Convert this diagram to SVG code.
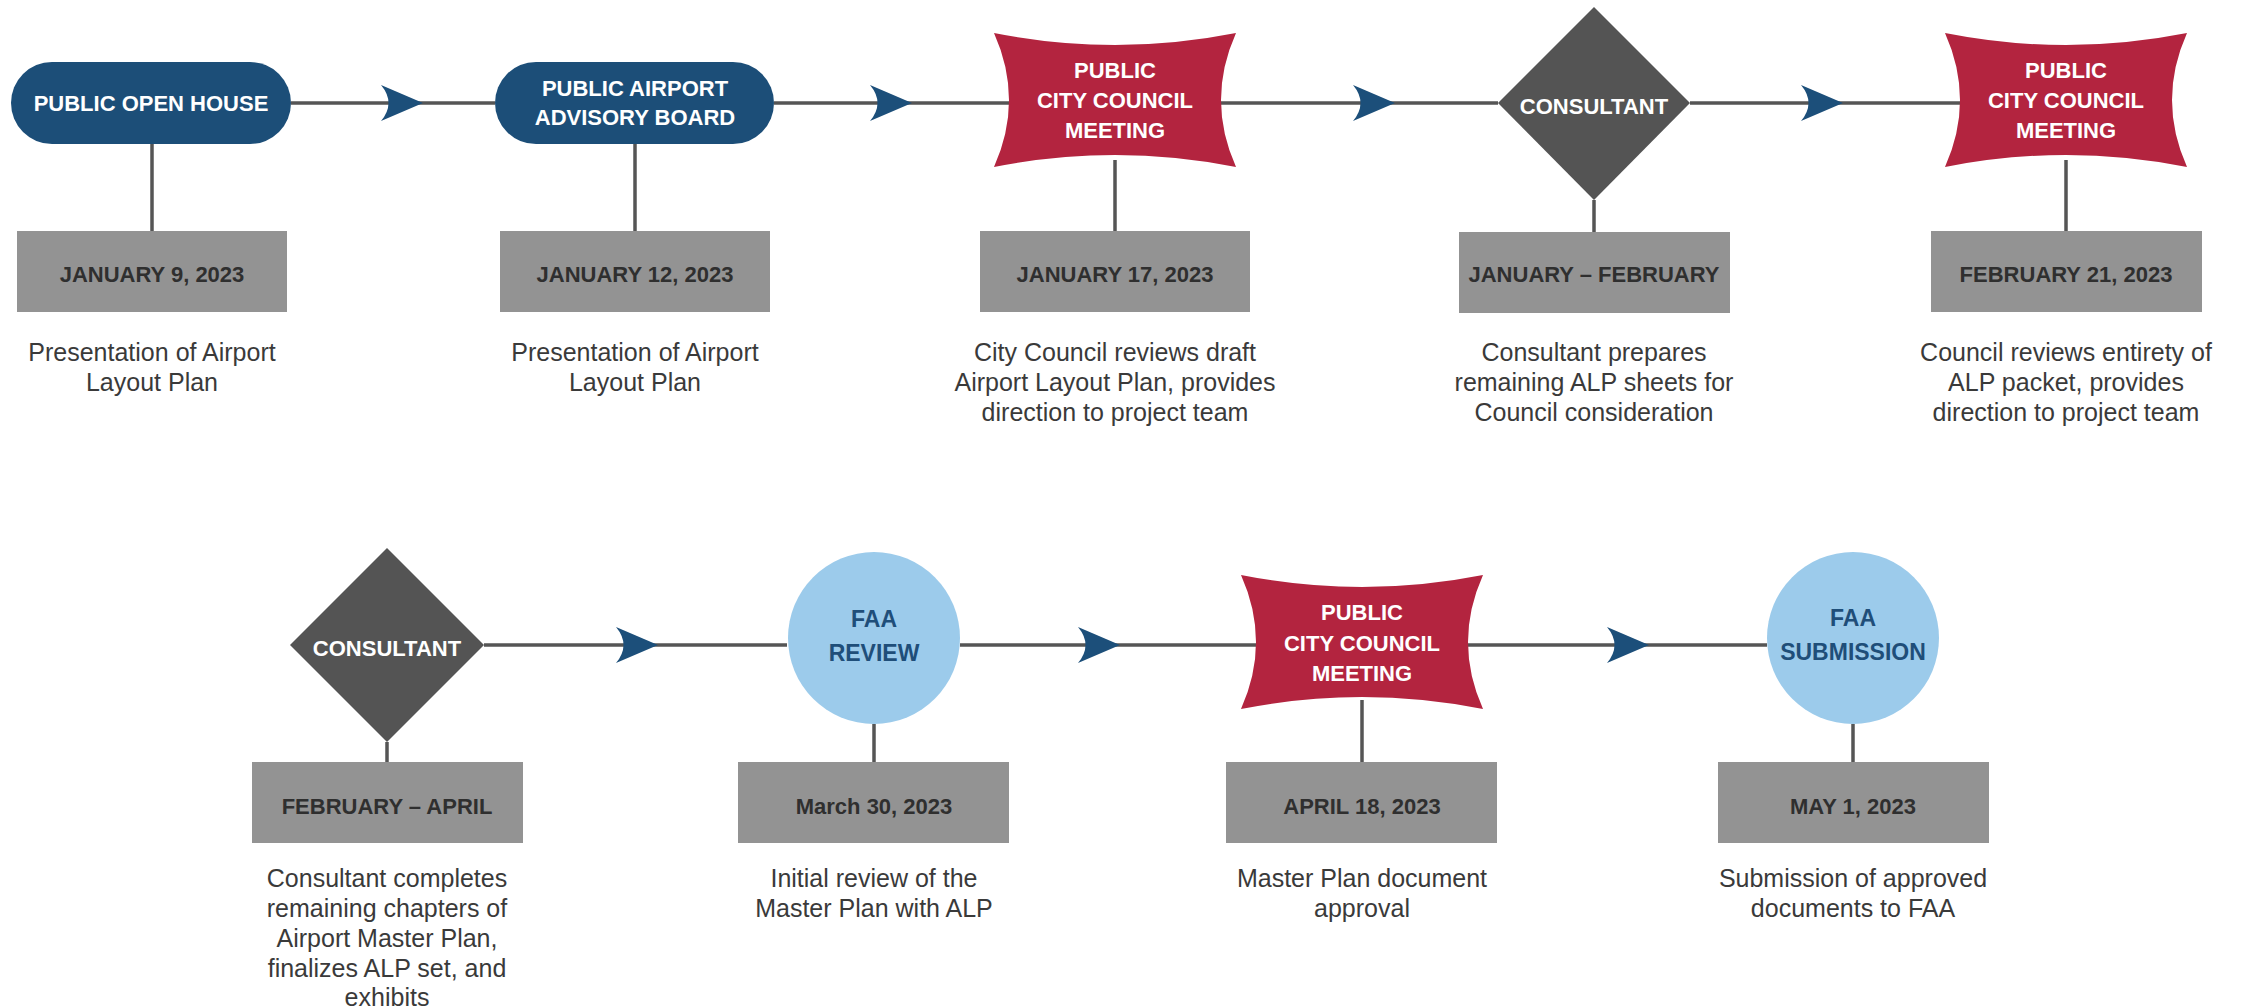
<svg xmlns="http://www.w3.org/2000/svg" xmlns:xlink="http://www.w3.org/1999/xlink" width="2242" height="1008" viewBox="0 0 2242 1008">
  <style>
    .line { stroke: #555555; stroke-width: 3.5; fill: none; }
    .flow { stroke: #555555; stroke-width: 3.5; fill: none; marker-mid: url(#arr); }
    .pill { fill: #1c4e78; }
    .red { fill: #b3243f; }
    .dia { fill: #545454; }
    .circ { fill: #9ccbeb; }
    .date { fill: #939393; }
    .head { font-family: "Liberation Sans", Arial, sans-serif; font-weight: bold; font-size: 22px; fill: #ffffff; text-anchor: middle; }
    .faa { font-family: "Liberation Sans", Arial, sans-serif; font-weight: bold; font-size: 23px; fill: #1f4e79; text-anchor: middle; }
    .dt { font-family: "Liberation Sans", Arial, sans-serif; font-weight: bold; font-size: 22px; fill: #2f2f2f; text-anchor: middle; }
    .desc { font-family: "Liberation Sans", Arial, sans-serif; font-size: 25px; fill: #3a3a3a; text-anchor: middle; }
  </style>
  <defs>
    <marker id="arr" markerUnits="userSpaceOnUse" markerWidth="42" markerHeight="36" viewBox="0 0 42 36" refX="42" refY="18" orient="auto">
      <path d="M0,0 L42,18 L0,36 Q15,18 0,0 Z" fill="#1c4f7a"/>
    </marker>
    <path id="star" d="M-121,-67 Q0,-43 121,-67 Q91,0 121,67 Q0,43 -121,67 Q-91,0 -121,-67 Z"/>
  </defs>
  <rect width="2242" height="1008" fill="#ffffff"/>

  <g id="connectors">
    <path class="flow" d="M291,103 L423,103 L495,103"/>
    <path class="flow" d="M774,103 L912,103 L1010,103"/>
    <path class="flow" d="M1220,103 L1395,103 L1498,103"/>
    <path class="flow" d="M1690,103 L1843,103 L1960,103"/>
    <path class="flow" d="M484,645 L658,645 L787,645"/>
    <path class="flow" d="M960,645 L1120,645 L1256,645"/>
    <path class="flow" d="M1468,645 L1649,645 L1767,645"/>
    <path class="line" d="M152,144 V231"/>
    <path class="line" d="M635,144 V231"/>
    <path class="line" d="M1115,160 V231"/>
    <path class="line" d="M1594,200 V232"/>
    <path class="line" d="M2066,160 V231"/>
    <path class="line" d="M387,742 V762"/>
    <path class="line" d="M874,724 V762"/>
    <path class="line" d="M1362,700 V762"/>
    <path class="line" d="M1853,724 V762"/>
  </g>

  <g id="node-open-house">
    <rect class="pill" x="11" y="62" width="280" height="82" rx="41"/>
    <text class="head" x="151" y="111">PUBLIC OPEN HOUSE</text>
  </g>
  <g id="date-open-house">
    <rect class="date" x="17" y="231" width="270" height="81"/>
    <text class="dt" x="152" y="282">JANUARY 9, 2023</text>
    <text class="desc" x="152" y="361">Presentation of Airport</text>
    <text class="desc" x="152" y="391">Layout Plan</text>
  </g>

  <g id="node-advisory-board">
    <rect class="pill" x="495" y="62" width="279" height="82" rx="41"/>
    <text class="head" x="635" y="96">PUBLIC AIRPORT</text>
    <text class="head" x="635" y="125">ADVISORY BOARD</text>
  </g>
  <g id="date-advisory-board">
    <rect class="date" x="500" y="231" width="270" height="81"/>
    <text class="dt" x="635" y="282">JANUARY 12, 2023</text>
    <text class="desc" x="635" y="361">Presentation of Airport</text>
    <text class="desc" x="635" y="391">Layout Plan</text>
  </g>

  <g id="node-council-1">
    <use xlink:href="#star" href="#star" class="red" transform="translate(1115,100)"/>
    <text class="head" x="1115" y="78">PUBLIC</text>
    <text class="head" x="1115" y="108">CITY COUNCIL</text>
    <text class="head" x="1115" y="138">MEETING</text>
  </g>
  <g id="date-council-1">
    <rect class="date" x="980" y="231" width="270" height="81"/>
    <text class="dt" x="1115" y="282">JANUARY 17, 2023</text>
    <text class="desc" x="1115" y="361">City Council reviews draft</text>
    <text class="desc" x="1115" y="391">Airport Layout Plan, provides</text>
    <text class="desc" x="1115" y="421">direction to project team</text>
  </g>

  <g id="node-consultant-1">
    <polygon class="dia" points="1594,7 1690,103 1594,200 1498,103"/>
    <text class="head" x="1594" y="114">CONSULTANT</text>
  </g>
  <g id="date-consultant-1">
    <rect class="date" x="1459" y="232" width="271" height="81"/>
    <text class="dt" x="1594" y="282">JANUARY – FEBRUARY</text>
    <text class="desc" x="1594" y="361">Consultant prepares</text>
    <text class="desc" x="1594" y="391">remaining ALP sheets for</text>
    <text class="desc" x="1594" y="421">Council consideration</text>
  </g>

  <g id="node-council-2">
    <use xlink:href="#star" href="#star" class="red" transform="translate(2066,100)"/>
    <text class="head" x="2066" y="78">PUBLIC</text>
    <text class="head" x="2066" y="108">CITY COUNCIL</text>
    <text class="head" x="2066" y="138">MEETING</text>
  </g>
  <g id="date-council-2">
    <rect class="date" x="1931" y="231" width="271" height="81"/>
    <text class="dt" x="2066" y="282">FEBRUARY 21, 2023</text>
    <text class="desc" x="2066" y="361">Council reviews entirety of</text>
    <text class="desc" x="2066" y="391">ALP packet, provides</text>
    <text class="desc" x="2066" y="421">direction to project team</text>
  </g>

  <g id="node-consultant-2">
    <polygon class="dia" points="387,548 484,645 387,742 290,645"/>
    <text class="head" x="387" y="656">CONSULTANT</text>
  </g>
  <g id="date-consultant-2">
    <rect class="date" x="252" y="762" width="271" height="81"/>
    <text class="dt" x="387" y="814">FEBRUARY – APRIL</text>
    <text class="desc" x="387" y="887">Consultant completes</text>
    <text class="desc" x="387" y="917">remaining chapters of</text>
    <text class="desc" x="387" y="947">Airport Master Plan,</text>
    <text class="desc" x="387" y="977">finalizes ALP set, and</text>
    <text class="desc" x="387" y="1006">exhibits</text>
  </g>

  <g id="node-faa-review">
    <circle class="circ" cx="874" cy="638" r="86"/>
    <text class="faa" x="874" y="627">FAA</text>
    <text class="faa" x="874" y="661">REVIEW</text>
  </g>
  <g id="date-faa-review">
    <rect class="date" x="738" y="762" width="271" height="81"/>
    <text class="dt" x="874" y="814">March 30, 2023</text>
    <text class="desc" x="874" y="887">Initial review of the</text>
    <text class="desc" x="874" y="917">Master Plan with ALP</text>
  </g>

  <g id="node-council-3">
    <use xlink:href="#star" href="#star" class="red" transform="translate(1362,642)"/>
    <text class="head" x="1362" y="620">PUBLIC</text>
    <text class="head" x="1362" y="651">CITY COUNCIL</text>
    <text class="head" x="1362" y="681">MEETING</text>
  </g>
  <g id="date-council-3">
    <rect class="date" x="1226" y="762" width="271" height="81"/>
    <text class="dt" x="1362" y="814">APRIL 18, 2023</text>
    <text class="desc" x="1362" y="887">Master Plan document</text>
    <text class="desc" x="1362" y="917">approval</text>
  </g>

  <g id="node-faa-submission">
    <circle class="circ" cx="1853" cy="638" r="86"/>
    <text class="faa" x="1853" y="626">FAA</text>
    <text class="faa" x="1853" y="660">SUBMISSION</text>
  </g>
  <g id="date-faa-submission">
    <rect class="date" x="1718" y="762" width="271" height="81"/>
    <text class="dt" x="1853" y="814">MAY 1, 2023</text>
    <text class="desc" x="1853" y="887">Submission of approved</text>
    <text class="desc" x="1853" y="917">documents to FAA</text>
  </g>
</svg>
